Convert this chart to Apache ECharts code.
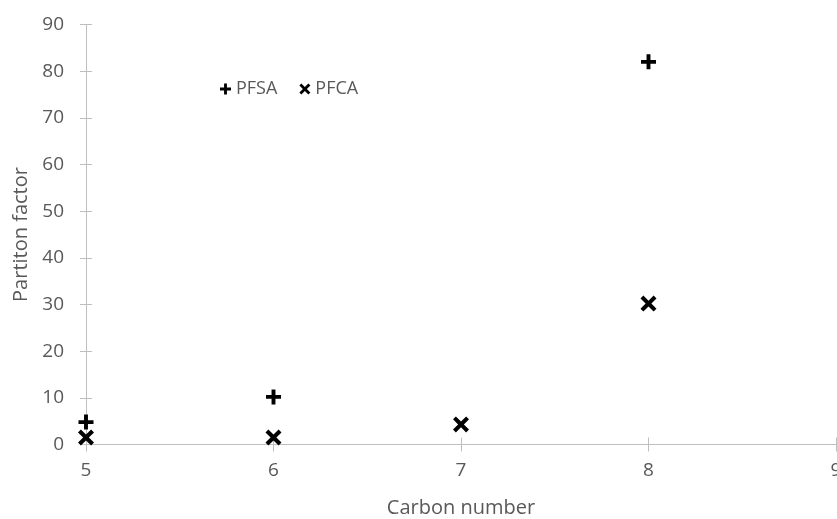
<!DOCTYPE html>
<html>
<head>
<meta charset="utf-8">
<script src="https://cdn.jsdelivr.net/npm/echarts@6/dist/echarts.min.js"></script>
<style>
html,body{margin:0;padding:0;background:#fff;}
#chart{width:837px;height:519px;}
</style>
</head>
<body>
<div id="chart"></div>
<script>
// Data
const seriesNames = ["PFSA", "PFCA"];
const pfsaCarbon = [5, 6, 8];
const pfsaValues = [4.8, 10.2, 82.0];
const pfcaCarbon = [5, 6, 7, 8];
const pfcaValues = [1.5, 1.5, 4.3, 30.2];
const xTitle = "Carbon number";
const yTitle = "Partiton factor";

const plusPath = 'path://M3.7,0H6.3V3.7H10V6.3H6.3V10H3.7V6.3H0V3.7H3.7Z';
const crossPath = 'path://M0,1.8L1.8,0L5,3.2L8.2,0L10,1.8L6.8,5L10,8.2L8.2,10L5,6.8L1.8,10L0,8.2L3.2,5Z';

const FONT = 'Open Sans';
const TXT = '#595959';
const LINE = '#bfbfbf';

const chart = echarts.init(document.getElementById('chart'), null, {renderer: 'canvas'});
chart.setOption({
  animation: false,
  backgroundColor: '#ffffff',
  textStyle: {fontFamily: FONT},
  grid: {left: 86, right: 1, top: 24.5, bottom: 74.5, containLabel: false, outerBoundsMode: 'none'},
  legend: {
    left: 220, top: 80, padding: 0,
    itemWidth: 11, itemHeight: 11, itemGap: 22,
    textStyle: {color: TXT, fontSize: 18, fontFamily: FONT},
    data: seriesNames
  },
  xAxis: [{
    type: 'value', min: 5, max: 9, interval: 1,
    name: xTitle, nameLocation: 'middle', nameGap: 54,
    nameTextStyle: {color: TXT, fontSize: 20, fontFamily: FONT},
    axisLine: {show: true, onZero: false, lineStyle: {color: LINE, width: 1}},
    axisTick: {show: false},
    axisLabel: {color: TXT, fontSize: 19, margin: 17, fontFamily: FONT, showMaxLabel: true, showMinLabel: true},
    splitLine: {show: false}
  }, {
    type: 'value', min: 5, max: 9, interval: 1, position: 'bottom', offset: -7,
    axisLine: {show: true, onZero: false, lineStyle: {color: LINE, opacity: 0}},
    axisTick: {show: true, inside: false, length: 14, lineStyle: {color: LINE}},
    axisLabel: {show: false},
    splitLine: {show: false}
  }],
  yAxis: [{
    type: 'value', min: 0, max: 90, interval: 10,
    name: yTitle, nameLocation: 'middle', nameGap: 53,
    nameTextStyle: {color: TXT, fontSize: 20, fontFamily: FONT},
    axisLine: {show: true, onZero: false, lineStyle: {color: LINE, width: 1}},
    axisTick: {show: false},
    axisLabel: {color: TXT, fontSize: 19, margin: 22, fontFamily: FONT},
    splitLine: {show: false}
  }, {
    type: 'value', min: 0, max: 90, interval: 10, position: 'left', offset: -6,
    axisLine: {show: true, onZero: false, lineStyle: {color: LINE, opacity: 0}},
    axisTick: {show: true, inside: false, length: 12, lineStyle: {color: LINE}},
    axisLabel: {show: false},
    splitLine: {show: false}
  }],
  series: [{
    name: seriesNames[0], type: 'scatter',
    symbol: plusPath, symbolSize: 15,
    itemStyle: {color: '#000000', opacity: 1},
    data: pfsaCarbon.map((c, i) => [c, pfsaValues[i]])
  }, {
    name: seriesNames[1], type: 'scatter',
    symbol: crossPath, symbolSize: 16,
    itemStyle: {color: '#000000', opacity: 1},
    data: pfcaCarbon.map((c, i) => [c, pfcaValues[i]])
  }]
});
</script>
</body>
</html>
